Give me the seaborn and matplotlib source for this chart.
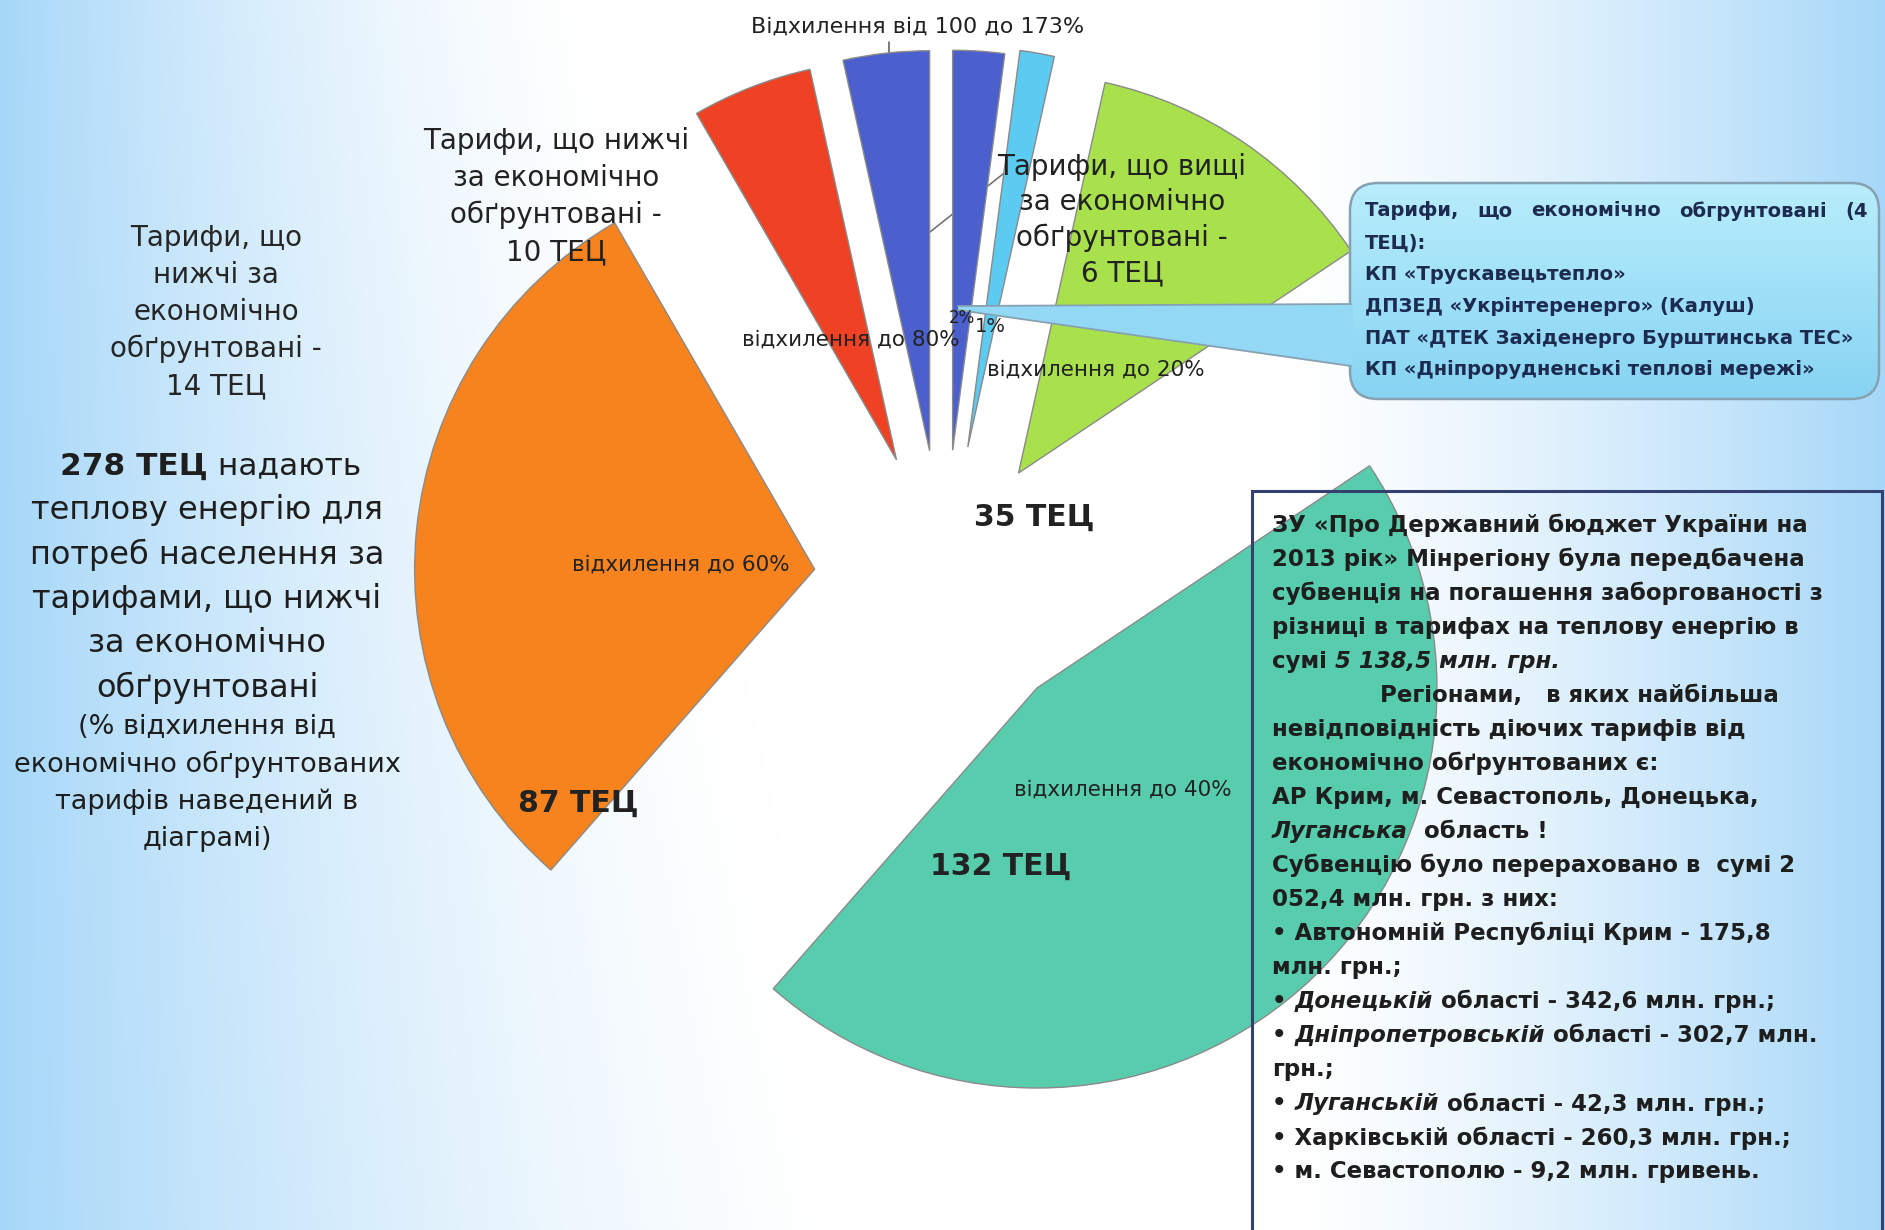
import numpy as np
import matplotlib
matplotlib.use("Agg")
import matplotlib.pyplot as plt
import seaborn as sns
from matplotlib.patches import FancyBboxPatch, Polygon, Rectangle

# ---------------------------------------------------------------- data
# ТЕЦ grouped by how far the tariff is from the economically justified one,
# listed clockwise from 12 o'clock
slice_names = ["вищі за обґрунтовані", "економічно обґрунтовані", "відхилення до 20%",
               "відхилення до 40%", "відхилення до 60%", "відхилення до 80%",
               "відхилення від 100 до 173%"]
plant_counts = [6, 4, 35, 132, 87, 14, 10]
slice_colors = ["#4b5fcd", "#5ccbf1", "#a8e14c", "#58cdae", "#f7831f", "#ef4124", "#4b5fcd"]
deviation_labels = ["відхилення до 20%", "відхилення до 40%", "відхилення до 60%",
                    "відхилення до 80%"]
top_label = "Відхилення від 100 до 173%"

justified_plants = ["КП «Трускавецьтепло»", "ДПЗЕД «Укрінтеренерго» (Калуш)",
                    "ПАТ «ДТЕК Західенерго Бурштинська ТЕС»",
                    "КП «Дніпрорудненські теплові мережі»"]

subsidy_regions = ["Автономній Республіці Крим", "Донецькій області",
                   "Дніпропетровській області", "Луганській області",
                   "Харківській області", "м. Севастополю"]
subsidy_amounts = ["175,8", "342,6", "302,7", "42,3", "260,3", "9,2"]

# ---------------------------------------------------------------- figure
W, H = 1885, 1230
sns.set_theme(style="white")
plt.rcParams["font.family"] = ["DejaVu Sans"]

fig = plt.figure(figsize=(W / 100, H / 100), dpi=100)
ax = fig.add_axes([0, 0, 1, 1])


def Y(y):
    """Page coordinates are measured from the top edge."""
    return H - y


# soft blue-to-white slide background
gx = np.linspace(0, W, 480)
gy = np.linspace(0, H, 320)
GX, GY = np.meshgrid(gx, gy)
left_w = 600 + 260 * GY / H
left = np.clip(1 - GX / left_w, 0, 1) ** 1.5
right = np.clip((GX - 1290) / 595, 0, 1) ** 1.3
blend = np.maximum(left, right)[..., None]
blue = np.array([0.655, 0.845, 0.975])
bg = 1 - blend * (1 - blue)
ax.imshow(bg, extent=(0, W, 0, H), origin="upper", aspect="auto",
          interpolation="bilinear", zorder=0)

# ---------------------------------------------------------------- exploded pie
palette = sns.color_palette(slice_colors)
explode = [132, 137, 132, 141, 130, 131, 132]
wedges, _ = ax.pie(plant_counts, colors=palette, startangle=90, counterclock=False,
                   radius=400, center=(944, Y(582)), explode=explode, frame=True,
                   wedgeprops=dict(edgecolor="#8a8a8a", linewidth=1.0, zorder=2))

ax.set_xlim(0, W)
ax.set_ylim(0, H)
ax.set_aspect("equal")
ax.set_axis_off()

ink = "#222222"

# leader lines
ax.plot([889, 889], [Y(42), Y(58)], color="#555555", lw=1.1, zorder=1)
ax.plot([930, 1008], [Y(232), Y(170)], color="#6a6a6a", lw=1.1, zorder=1)

# big framed note (frame sits over the pie)
ax.add_patch(Rectangle((1252, Y(1232)), 1882 - 1252, 1232 - 491, fill=False,
                       edgecolor="#34406f", linewidth=2.2, zorder=5))

# rounded call-out with gradient fill
call = FancyBboxPatch((1350, Y(399)), 1879 - 1350, 399 - 183,
                      boxstyle="round,pad=0,rounding_size=28",
                      facecolor="none", edgecolor="#86a2b2", linewidth=1.8, zorder=7)
ax.add_patch(call)
grad = np.linspace(0, 1, 64)[:, None, None]
top_c = np.array([0.72, 0.93, 0.99])
bot_c = np.array([0.53, 0.83, 0.95])
cg = top_c * (1 - grad) + bot_c * grad
cg = np.repeat(cg, 4, axis=1)
im = ax.imshow(cg, extent=(1350, 1879, Y(399), Y(183)), origin="upper",
               aspect="auto", zorder=6)
im.set_clip_path(call)

ptr = Polygon([(958, Y(306)), (1353, Y(304)), (1353, Y(366)), (958, Y(310))],
              closed=True, facecolor="#93d9f5", edgecolor="none", zorder=7.5)
ax.add_patch(ptr)
ax.plot([958, 1351], [Y(306), Y(304)], color="#86a2b2", lw=1.3, zorder=7.6)
ax.plot([958, 1351], [Y(310), Y(366)], color="#86a2b2", lw=1.3, zorder=7.6)

# ---------------------------------------------------------------- pie labels
ax.text(918, Y(27), top_label, fontsize=16, color=ink, ha="center", va="center", zorder=9)

total = sum(plant_counts)
ax.text(962, Y(318), f"{round(100 * plant_counts[0] / total)}%", fontsize=12,
        color=ink, ha="center", va="center", zorder=9)
ax.text(990, Y(326), f"{round(100 * plant_counts[1] / total)}%", fontsize=14,
        color=ink, ha="center", va="center", zorder=9)

dev_pos = [(1096, 370), (1123, 790), (681, 565), (851, 340)]
for txt, (x, y) in zip(deviation_labels, dev_pos):
    ax.text(x, Y(y), txt, fontsize=15.5, color=ink, ha="center", va="center", zorder=9)

count_pos = {2: (1034, 517), 3: (1001, 866), 4: (578, 803)}
for i, (x, y) in count_pos.items():
    ax.text(x, Y(y), f"{plant_counts[i]} ТЕЦ", fontsize=21.5, fontweight="bold",
            color=ink, ha="center", va="center", zorder=9)


def stack(x, y0, dy, lines, **kw):
    for k, line in enumerate(lines):
        ax.text(x, Y(y0 + k * dy), line, ha="center", va="center", zorder=9, **kw)


stack(556, 141, 37, ["Тарифи, що нижчі", "за економічно", "обґрунтовані -",
                     f"{plant_counts[6]} ТЕЦ"], fontsize=20, color=ink)
stack(1122, 167, 35.5, ["Тарифи, що вищі", "за економічно", "обґрунтовані -",
                        f"{plant_counts[0]} ТЕЦ"], fontsize=20, color=ink)

# ---------------------------------------------------------------- left column
stack(216, 238, 37, ["Тарифи, що", "нижчі за", "економічно", "обґрунтовані -",
                     f"{plant_counts[5]} ТЕЦ"], fontsize=20, color="#262626")

below_total = sum(plant_counts[2:])
t0 = ax.text(60, Y(466), f"{below_total} ТЕЦ", fontsize=22.5, fontweight="bold",
             color="#1e1e1e", ha="left", va="center", zorder=9)
ax.annotate(" надають", xy=(1, 0.5), xycoords=t0, fontsize=22.5, color="#1e1e1e",
            ha="left", va="center", zorder=9)
stack(207, 466 + 44.4, 44.4, ["теплову енергію для", "потреб населення за",
                              "тарифами, що нижчі", "за економічно", "обґрунтовані"],
      fontsize=23, color="#1e1e1e")
stack(207, 727, 37.3, ["(% відхилення від", "економічно обґрунтованих",
                       "тарифів наведений в", "діаграмі)"],
      fontsize=19.5, color="#1e1e1e")

# ---------------------------------------------------------------- call-out text
navy = "#1c2b4f"
cfont = dict(fontsize=14.0, fontweight="bold", color=navy, va="center", zorder=9)
head_words = ["Тарифи,", "що", "економічно", "обгрунтовані", f"({plant_counts[1]}"]
head_texts = [ax.text(0, Y(211), w, ha="left", **cfont) for w in head_words]
fig.canvas.draw()
renderer = fig.canvas.get_renderer()
widths = [t.get_window_extent(renderer).width for t in head_texts]
x_left, x_right = 1365, 1868
gap = (x_right - x_left - sum(widths)) / (len(widths) - 1)
x = x_left
for t, w in zip(head_texts, widths):
    t.set_x(x)
    x += w + gap
ax.text(1365, Y(243), "ТЕЦ):", ha="left", **cfont)
for k, name in enumerate(justified_plants):
    ax.text(1365, Y(275 + k * 31.6), name, ha="left", **cfont)

# ---------------------------------------------------------------- note text
note_kw = dict(fontsize=16.5, fontweight="bold", color="#1e1e1e", zorder=9)


def segments(x, y, parts):
    prev = None
    for text, style in parts:
        if prev is None:
            prev = ax.text(x, Y(y), text, ha="left", va="center", fontstyle=style, **note_kw)
        else:
            prev = ax.annotate(text, xy=(1, 0.5), xycoords=prev, ha="left",
                               va="center", fontstyle=style, **note_kw)


N = "normal"
I = "italic"
note_lines = [
    [("ЗУ «Про Державний бюджет України на", N)],
    [("2013 рік» Мінрегіону була передбачена", N)],
    [("субвенція на погашення заборгованості з", N)],
    [("різниці в тарифах на теплову енергію в", N)],
    [("сумі ", N), ("5 138,5 млн. грн.", I)],
    None,
    [("невідповідність діючих тарифів від", N)],
    [("економічно обґрунтованих є:", N)],
    [("АР Крим, м. Севастополь, Донецька,", N)],
    [("Луганська", I), ("  область !", N)],
    [("Субвенцію було перераховано в  сумі 2", N)],
    [("052,4 млн. грн. з них:", N)],
    [(f"• {subsidy_regions[0]} - {subsidy_amounts[0]}", N)],
    [("млн. грн.;", N)],
    [("• ", N), (subsidy_regions[1].split()[0], I),
     (f" області - {subsidy_amounts[1]} млн. грн.;", N)],
    [("• ", N), (subsidy_regions[2].split()[0], I),
     (f" області - {subsidy_amounts[2]} млн.", N)],
    [("грн.;", N)],
    [("• ", N), (subsidy_regions[3].split()[0], I),
     (f" області - {subsidy_amounts[3]} млн. грн.;", N)],
    [(f"• {subsidy_regions[4]} - {subsidy_amounts[4]} млн. грн.;", N)],
    [(f"• {subsidy_regions[5]} - {subsidy_amounts[5]} млн. гривень.", N)],
]
for k, parts in enumerate(note_lines):
    y = 525 + k * 34.05
    if parts is None:
        segments(1380, y, [("Регіонами,   в яких найбільша", N)])
    else:
        segments(1272, y, parts)

fig.savefig("out.png", dpi=100)
